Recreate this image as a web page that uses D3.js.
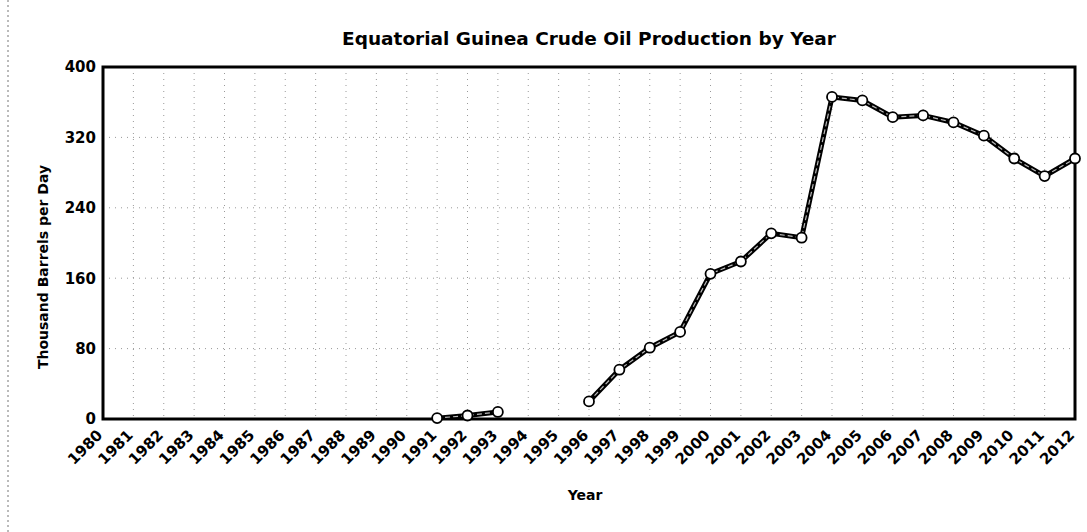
<!DOCTYPE html>
<html>
<head>
<meta charset="utf-8">
<script src="https://cdn.jsdelivr.net/npm/d3@7"></script>
<style>
	body { margin: 0; background: #fff; }
	svg text { font-family: "DejaVu Sans", Verdana, sans-serif; font-weight: bold; fill: #000; }
</style>
</head>
<body>
<svg id="chart" width="1087" height="532"></svg>
<script>
// chart values
const years = d3.range(1980, 2013);
const production = [
	null, null, null, null, null, null, null, null, null, null, null,
	1, 4, 8, null, null,
	20, 56, 81, 99, 165, 179, 211, 206,
	366, 362, 343, 345, 337, 322, 296, 276, 296
];
const yTicks = [0, 80, 160, 240, 320, 400];

const title = "Equatorial Guinea Crude Oil Production by Year";
const xTitle = "Year";
const yTitle = "Thousand Barrels per Day";

const dims = { width: 1087, height: 532, left: 103, right: 1075, top: 67, bottom: 419 };

const svg = d3.select("#chart");

// faint scan edge on the left
svg.append("line")
	.attr("x1", 8).attr("x2", 8)
	.attr("y1", 0).attr("y2", dims.height)
	.attr("stroke", "#777")
	.attr("stroke-dasharray", "2,3");

const x = d3.scaleLinear()
	.domain([1980, 2012])
	.range([dims.left, dims.right]);

const y = d3.scaleLinear()
	.domain([0, 400])
	.range([dims.bottom, dims.top]);

// grid
svg.append("g")
	.selectAll("line")
	.data(years)
	.enter()
	.append("line")
	.attr("x1", d => x(d)).attr("x2", d => x(d))
	.attr("y1", dims.top).attr("y2", dims.bottom)
	.attr("stroke", "#999")
	.attr("stroke-width", 1)
	.attr("stroke-dasharray", "1,5");

svg.append("g")
	.selectAll("line")
	.data(yTicks)
	.enter()
	.append("line")
	.attr("x1", dims.left).attr("x2", dims.right)
	.attr("y1", d => y(d)).attr("y2", d => y(d))
	.attr("stroke", "#999")
	.attr("stroke-width", 1)
	.attr("stroke-dasharray", "1,5");

// axes
let yAxis = svg.append("g")
	.attr("transform", "translate(" + dims.left + ",0)")
	.call(d3.axisLeft(y).tickValues(yTicks).tickSize(0).tickPadding(7));
yAxis.select(".domain").remove();
yAxis.selectAll("text").attr("font-size", 15);

let xAxis = svg.append("g")
	.attr("transform", "translate(0," + dims.bottom + ")")
	.call(d3.axisBottom(x).tickValues(years).tickFormat(d3.format("d")).tickSize(0));
xAxis.select(".domain").remove();
xAxis.selectAll("text")
	.attr("font-size", 15)
	.attr("text-anchor", "end")
	.attr("y", 0)
	.attr("dy", 0)
	.attr("transform", "translate(0,17) rotate(-45)");

// frame
svg.append("rect")
	.attr("x", dims.left).attr("y", dims.top)
	.attr("width", dims.right - dims.left)
	.attr("height", dims.bottom - dims.top)
	.attr("fill", "none")
	.attr("stroke", "#000")
	.attr("stroke-width", 3);

// series
const points = years.map((yr, i) => ({ year: yr, value: production[i] }));

let line = d3.line()
	.defined(d => d.value !== null)
	.x(d => x(d.year))
	.y(d => y(d.value));

svg.append("path")
	.datum(points)
	.attr("fill", "none")
	.attr("stroke", "#000")
	.attr("stroke-width", 5)
	.attr("d", line);

svg.append("path")
	.datum(points)
	.attr("fill", "none")
	.attr("stroke", "#bbb")
	.attr("stroke-width", 1.2)
	.attr("stroke-dasharray", "5,3")
	.attr("d", line);

svg.append("g")
	.selectAll("circle")
	.data(points.filter(d => d.value !== null))
	.enter()
	.append("circle")
	.attr("cx", d => x(d.year))
	.attr("cy", d => y(d.value))
	.attr("r", 5)
	.attr("fill", "#fff")
	.attr("stroke", "#000")
	.attr("stroke-width", 1.8);

// titles
svg.append("text")
	.attr("x", 589).attr("y", 45)
	.attr("text-anchor", "middle")
	.attr("font-size", 18.5)
	.text(title);

svg.append("text")
	.attr("x", 585).attr("y", 500)
	.attr("text-anchor", "middle")
	.attr("font-size", 14)
	.text(xTitle);

svg.append("text")
	.attr("transform", "translate(48,267) rotate(-90)")
	.attr("text-anchor", "middle")
	.attr("font-size", 14)
	.text(yTitle);
</script>
</body>
</html>
